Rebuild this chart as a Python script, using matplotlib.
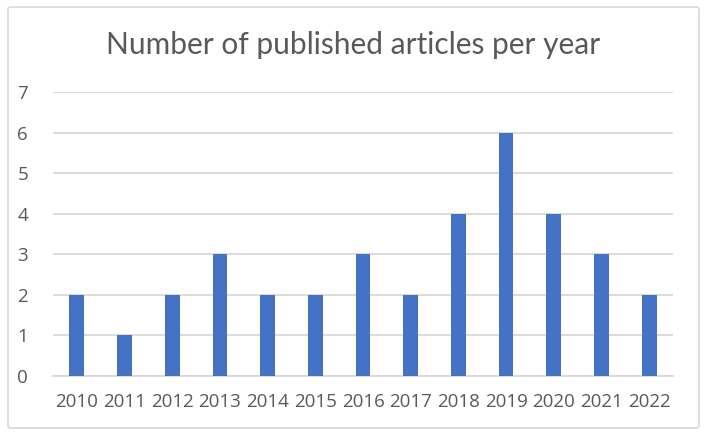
import numpy as np
import matplotlib.pyplot as plt
from matplotlib.patches import FancyBboxPatch

years = ['2010', '2011', '2012', '2013', '2014', '2015', '2016',
         '2017', '2018', '2019', '2020', '2021', '2022']
articles = [2, 1, 2, 3, 2, 2, 3, 2, 4, 6, 4, 3, 2]

plt.rcParams['font.family'] = ['Open Sans', 'DejaVu Sans']
txt = '#595959'

fig = plt.figure(figsize=(7.06, 4.36), dpi=100)
ax = fig.add_axes([53/706, 1-376/436, 620/706, 284/436])

x = np.arange(len(years))
ax.bar(x, articles, width=0.31, color='#4472C4', zorder=3)

ax.set_xlim(-0.5, len(years)-0.5)
ax.set_ylim(0, 7)
ax.set_yticks(range(0, 8))
ax.set_xticks(x)
ax.set_xticklabels(years)
ax.yaxis.grid(True, color='#D9D9D9', linewidth=1.3, zorder=0)
for s in ['top', 'right', 'left']:
    ax.spines[s].set_visible(False)
ax.spines['bottom'].set_color('#D9D9D9')
ax.spines['bottom'].set_linewidth(1.3)
ax.tick_params(axis='both', length=0, labelsize=13.5, colors=txt)
ax.tick_params(axis='y', pad=18)
ax.tick_params(axis='x', pad=12)

fig.text(0.5, 1-45/436, 'Number of published articles per year', ha='center',
         va='center', fontsize=21.5, color=txt, family=['Lato', 'DejaVu Sans'])

# outer chart border
border = FancyBboxPatch((8/706, 1-428/436), 691/706, 421/436,
                        boxstyle='round,pad=0,rounding_size=0.005',
                        transform=fig.transFigure, fill=False,
                        edgecolor='#D9D9D9', linewidth=1.2)
fig.patches.append(border)

plt.savefig('out.png', dpi=100)
